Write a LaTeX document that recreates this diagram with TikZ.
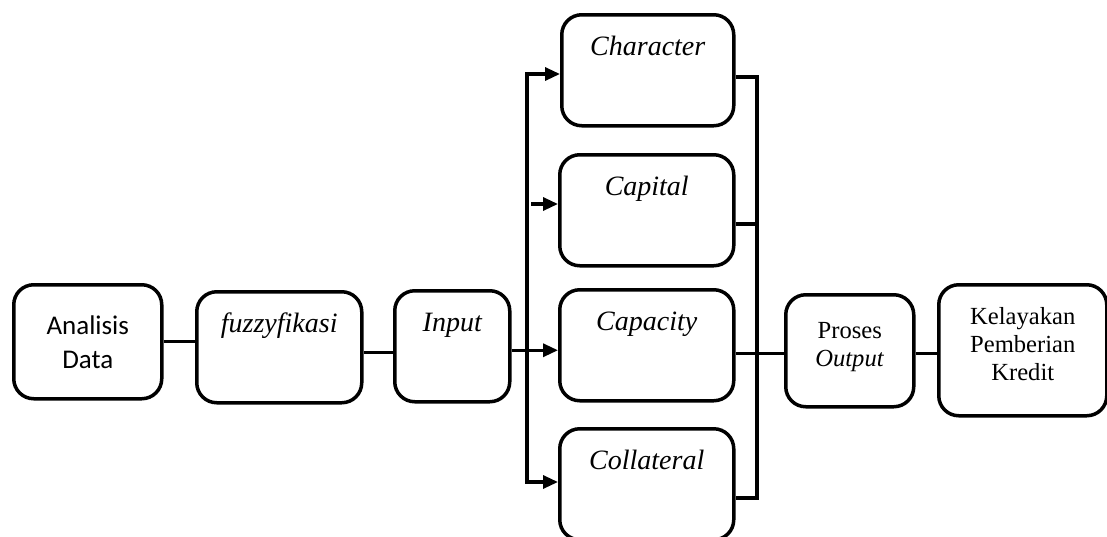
\documentclass[tikz,border=0pt]{standalone}
\usepackage{fontspec}
\setmainfont{Liberation Serif}
\newfontfamily\calibri{Carlito}
\usepackage{tikz}
\usetikzlibrary{arrows.meta,calc}

\tikzset{
	box/.style={draw, line width=1.75pt, rounded corners=10pt, anchor=north west, align=center, font=\fontsize{12.3}{14}\selectfont},
	topbox/.style={box, inner ysep=0pt, text height=20.5pt, text depth=35pt, font=\fontsize{14}{15}\selectfont\itshape},
	link/.style={line width=1.6pt}
}

\begin{document}
\begin{tikzpicture}[x=0.5pt, y=-0.5pt, >={Triangle[length=7.5pt,width=6.5pt]}]
	\clip (0,0) rectangle (1107,536);
	\useasboundingbox (0,0) rectangle (1107,536);

	% Nodes {ana, fuz, inp, chr, cap, cpy, col, pro, kel}
	\node [box, minimum width=74pt, minimum height=57pt, font=\fontsize{13.5}{17}\selectfont\calibri]
						(ana) at (12,283)	{Analisis\\Data};
	\node [topbox, minimum width=82.5pt]	(fuz) at (195,290)	{fuzzyfikasi};
	\node [topbox, minimum width=57.5pt]	(inp) at (393,289)	{Input};
	\node [topbox, minimum width=86pt]	(chr) at (560,13)	{Character};
	\node [topbox, minimum width=87pt]	(cap) at (558,153)	{Capital};
	\node [topbox, minimum width=87pt]	(cpy) at (558,288)	{Capacity};
	\node [topbox, minimum width=87pt]	(col) at (558,427)	{Collateral};
	\node [box, minimum width=64pt, minimum height=56pt]
						(pro) at (784,293)	{Proses\\\textit{Output}\\[-8pt]\mbox{}};
	\node [box, minimum width=84pt, minimum height=65.5pt]
						(kel) at (937,283)	{Kelayakan\\Pemberian\\Kredit\\[-8pt]\mbox{}};

	% Bus points
	\coordinate (lt) at (527,74);
	\coordinate (lb) at (527,482);
	\coordinate (capin) at (531,204);
	\coordinate (rt) at (757,77);
	\coordinate (rc) at (757,224);
	\coordinate (rb) at (757,498);

	% Paths
	\draw [link]	(ana.east) -- (ana.east -| fuz.west);
	\draw [link]	([yshift=-2.5pt]fuz.east) -- ([yshift=-2.5pt]fuz.east -| inp.west);
	\draw [link, ->]	([yshift=-2pt]inp.east) -- ([yshift=-2pt]inp.east -| cpy.west);
	\draw [link, <->]	(lt -| chr.west) -- (lt) -- (lb) -- (lb -| col.west);
	\draw [link, ->]	(capin) -- (capin -| cap.west);
	\draw [link]	(rt -| chr.east) -- (rt) -- (rb) -- (rb -| col.east);
	\draw [link]	(rc -| cap.east) -- (rc);
	\draw [link]	([yshift=-1.5pt]pro.west -| cpy.east) -- ([yshift=-1.5pt]pro.west);
	\draw [link]	([yshift=-1.5pt]pro.east) -- ([yshift=-1.5pt]pro.east -| kel.west);

\end{tikzpicture}
\end{document}
